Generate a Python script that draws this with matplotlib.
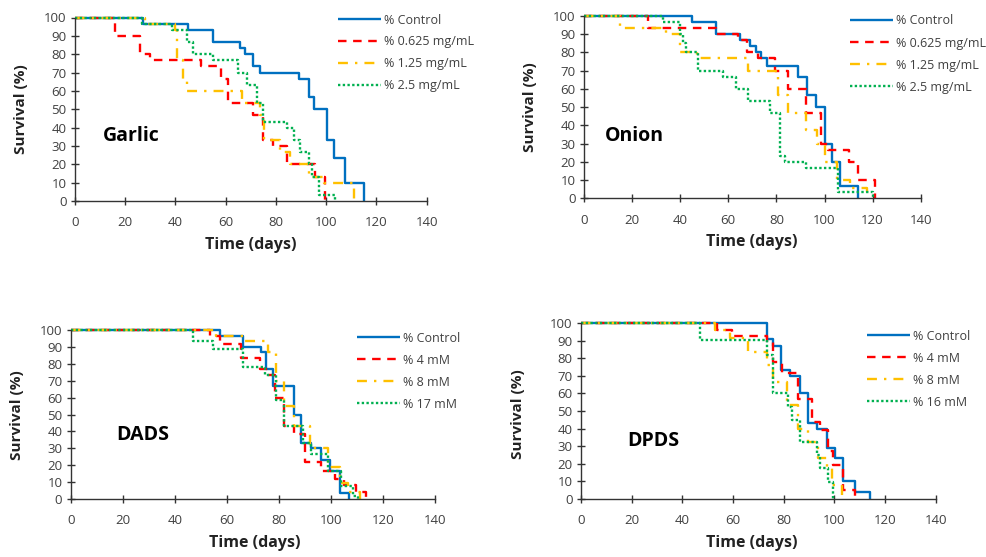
import matplotlib
matplotlib.use("Agg")
import matplotlib.pyplot as plt

# ---------------- data (days, % survival) ----------------
garlic_control_t = [0, 27, 45, 55, 65.5, 67.5, 71, 73.5, 89, 93, 95, 100.3, 103.2, 107.6, 115]
garlic_control_s = [100, 96.7, 93.3, 86.7, 83.3, 80, 73.3, 70, 66.7, 56.7, 50, 33.3, 23.3, 10, 0]
garlic_d1_t = [0, 16, 26, 30, 50, 58, 61, 71, 75, 79, 84.3, 95.6, 99.5]
garlic_d1_s = [100, 90, 80, 76.7, 73.3, 66.7, 53.3, 46.7, 33.3, 30, 20, 13.3, 0]
garlic_d2_t = [0, 28, 40, 40.7, 43, 44.5, 66.4, 73.7, 75.3, 81.7, 85.7, 93, 99, 111]
garlic_d2_s = [100, 96.7, 93.3, 76.7, 66.7, 60, 53.3, 46.7, 33.3, 26.7, 20, 13.3, 10, 0]
garlic_d3_t = [0, 26.6, 38.5, 44.5, 47, 55, 65, 68.4, 72.4, 75, 84.3, 87, 89.6, 93, 94.3, 97, 103.6]
garlic_d3_s = [100, 96.7, 93.3, 86.7, 80, 76.7, 70, 63.3, 53.3, 43.3, 40, 33.3, 26.7, 20, 13.3, 3.3, 0]

onion_control_t = [0, 45, 55, 64.8, 69, 71.7, 73.8, 75.9, 89, 92.8, 96.4, 100, 103, 106.6, 114]
onion_control_s = [100, 96.7, 90, 86.7, 83.3, 80, 76.7, 72.5, 66.7, 56.7, 50, 30, 20, 6.7, 0]
onion_d1_t = [0, 26.7, 55, 64, 67.6, 72.4, 79.4, 85, 92.5, 98.7, 101.5, 110, 114, 121]
onion_d1_s = [100, 93.3, 90, 86.7, 80, 76.7, 70, 60, 46.7, 30, 26.7, 20, 10, 0]
onion_d2_t = [0, 15, 34, 40, 46.8, 68.3, 80.7, 85, 92.5, 96.7, 100, 105, 110.5, 117.5]
onion_d2_s = [100, 93.3, 90, 80, 76.7, 70, 56.7, 46.7, 37.5, 30, 20, 10, 5.5, 0]
onion_d3_t = [0, 33, 40, 41, 42.6, 47.5, 58, 63.4, 68.3, 77.3, 81.4, 83.5, 92.5, 105.7, 120]
onion_d3_s = [100, 96.7, 90, 85, 80, 70, 66.7, 60, 53.3, 46.7, 23.3, 20, 16.7, 3.3, 0]

dads_control_t = [0, 57.5, 66.2, 73, 75.2, 77.7, 85.8, 88.6, 92.5, 96.3, 99.5, 103.3, 107]
dads_control_s = [100, 96.7, 90, 86.7, 76.7, 66.7, 50, 33.3, 30, 23.3, 16.7, 3.3, 0]
dads_d1_t = [0, 53.5, 57.5, 65.6, 72.6, 75.8, 78.4, 82, 85.8, 90, 96.3, 101.4, 105.2, 109.7, 113.5]
dads_d1_s = [100, 96.7, 91.7, 83.3, 76.7, 73.3, 60, 43.3, 38.3, 21.7, 16.7, 11.7, 8.3, 4.2, 0]
dads_d2_t = [0, 56, 67, 75.8, 79, 82, 86, 91.8, 98.8, 103.3, 106.5, 111]
dads_d2_s = [100, 96.7, 93.3, 86.7, 70, 55, 43.3, 30, 19, 9.5, 4.2, 0]
dads_d3_t = [0, 47, 54.7, 66.2, 74.5, 79, 82, 89.3, 92.5, 98.8, 104, 108.4, 110.4]
dads_d3_s = [100, 93.3, 88.9, 78.3, 73.3, 58.3, 43.3, 33.3, 26.7, 16.7, 7.5, 1.5, 0]

dpds_control_t = [0, 73.3, 75.9, 78.8, 82.5, 86.4, 89.7, 93, 97, 100.3, 103.6, 108, 114]
dpds_control_s = [100, 91, 87, 73.3, 70, 60, 43.3, 40, 28.7, 23.3, 10, 4, 0]
dpds_d1_t = [0, 53.5, 59.5, 73.3, 75.9, 79.2, 85.8, 91, 94.3, 97.6, 99.6, 103.6, 108]
dpds_d1_s = [100, 96.2, 93, 89.5, 78, 71.5, 57, 44, 39, 27, 19, 5, 0]
dpds_d2_t = [0, 52.9, 58.8, 66, 73.3, 75.9, 81.2, 85.8, 89.7, 93.7, 97, 99, 103]
dpds_d2_s = [100, 96.2, 91.4, 83.5, 76.2, 66.7, 53.4, 40, 32.5, 23, 17.3, 7.8, 0]
dpds_d3_t = [0, 47, 73.3, 75.9, 81.8, 83.2, 86.5, 93, 94.3, 97.6, 99.6]
dpds_d3_s = [100, 90.5, 82, 60, 52.5, 45, 32.5, 25, 17.3, 9.7, 0]

garlic_labels = ["% Control", "% 0.625 mg/mL", "% 1.25 mg/mL", "% 2.5 mg/mL"]
onion_labels = ["% Control", "% 0.625 mg/mL", "% 1.25 mg/mL", "% 2.5 mg/mL"]
dads_labels = ["% Control", "% 4 mM", "% 8 mM", "% 17 mM"]
dpds_labels = ["% Control", "% 4 mM", "% 8 mM", "% 16 mM"]

x_ticks = [0, 20, 40, 60, 80, 100, 120, 140]
y_ticks = [0, 10, 20, 30, 40, 50, 60, 70, 80, 90, 100]

# ---------------- layout ----------------
W, H = 986, 557
plt.rcParams['font.family'] = ['Open Sans', 'DejaVu Sans']
fig = plt.figure(figsize=(W / 100, H / 100), dpi=100)

def fx(x):
    return x / W

def fy(y):
    return 1 - y / H

def make_ax(l, r, t, b):
    return fig.add_axes([fx(l), fy(b), fx(r) - fx(l), (b - t) / H])

styles = [
    dict(color='#0070C0', lw=1.7, ls='-'),
    dict(color='#FF0000', lw=1.7, ls=(0, (3.6, 2.8))),
    dict(color='#FFC000', lw=1.7, ls=(0, (4.2, 3.0, 1.0, 3.0))),
    dict(color='#00B050', lw=1.7, ls=(0, (1.0, 1.0))),
]

panels = [
    dict(box=(75, 426.7, 17.5, 201), name="Garlic", name_xy=(103, 136),
         series=[(garlic_control_t, garlic_control_s), (garlic_d1_t, garlic_d1_s),
                 (garlic_d2_t, garlic_d2_s), (garlic_d3_t, garlic_d3_s)],
         labels=garlic_labels, leg=(338, 13.5), ylab=(21.5, 109), xlab=(251, 245)),
    dict(box=(584, 920.7, 16, 198.3), name="Onion", name_xy=(605, 136),
         series=[(onion_control_t, onion_control_s), (onion_d1_t, onion_d1_s),
                 (onion_d2_t, onion_d2_s), (onion_d3_t, onion_d3_s)],
         labels=onion_labels, leg=(850, 14.5), ylab=(530, 107), xlab=(752, 242)),
    dict(box=(70.7, 435, 330, 499), name="DADS", name_xy=(116, 435),
         series=[(dads_control_t, dads_control_s), (dads_d1_t, dads_d1_s),
                 (dads_d2_t, dads_d2_s), (dads_d3_t, dads_d3_s)],
         labels=dads_labels, leg=(357, 331.5), ylab=(17, 415), xlab=(255, 543)),
    dict(box=(581, 935.7, 323.3, 498.7), name="DPDS", name_xy=(627, 441),
         series=[(dpds_control_t, dpds_control_s), (dpds_d1_t, dpds_d1_s),
                 (dpds_d2_t, dpds_d2_s), (dpds_d3_t, dpds_d3_s)],
         labels=dpds_labels, leg=(867, 329.5), ylab=(518, 414), xlab=(752, 543)),
]

tick_color = '#404040'
for p in panels:
    ax = make_ax(*p['box'])
    for (t, s), st, lab in zip(p['series'], styles, p['labels']):
        ax.plot(t, s, drawstyle='steps-post', label=lab, clip_on=False,
                solid_capstyle='butt', dash_capstyle='butt', **st)
    ax.set_xlim(0, 140)
    ax.set_ylim(0, 100)
    ax.set_xticks(x_ticks)
    ax.set_yticks(y_ticks)
    ax.tick_params(direction='inout', length=6, width=1.0, colors='#333333',
                   labelcolor=tick_color, labelsize=9.5, pad=8)
    ax.tick_params(axis='y', pad=3)
    for sp in ['top', 'right']:
        ax.spines[sp].set_visible(False)
    for sp in ['left', 'bottom']:
        ax.spines[sp].set_color('#333333')
        ax.spines[sp].set_linewidth(1.0)
    ax.patch.set_visible(False)
    nx, ny = p['name_xy']
    fig.text(fx(nx), fy(ny), p['name'], fontsize=14, fontweight='bold',
             ha='left', va='center', color='black')
    lx, ly = p['leg']
    ax.legend(loc='upper left', bbox_to_anchor=(fx(lx), fy(ly)),
              bbox_transform=fig.transFigure, frameon=False, fontsize=9,
              handlelength=3.4, handletextpad=0.25, labelspacing=0.72,
              borderpad=0, borderaxespad=0, labelcolor='#404040')
    yx, yy = p['ylab']
    fig.text(fx(yx), fy(yy), "Survival (%)", rotation=90, fontsize=11,
             fontweight='bold', ha='center', va='center', color='#222222')
    xx, xy = p['xlab']
    fig.text(fx(xx), fy(xy), "Time (days)", fontsize=11.5, fontweight='bold',
             ha='center', va='center', color='#222222')

fig.savefig("out.png", dpi=100)
